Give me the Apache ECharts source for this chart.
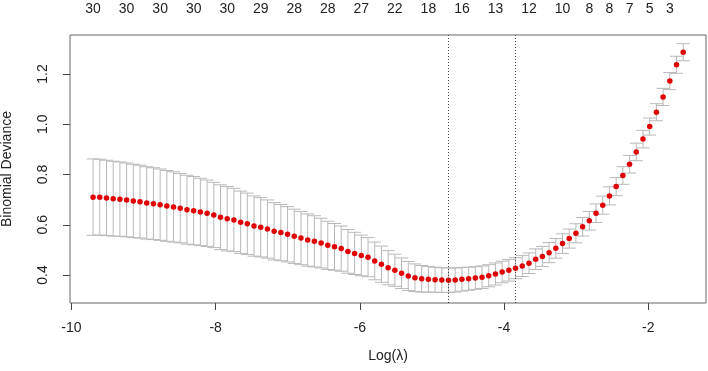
<!DOCTYPE html>
<html>
<head>
<meta charset="utf-8">
<script src="https://cdn.jsdelivr.net/npm/echarts@6/dist/echarts.min.js"></script>
<style>
  html, body { margin: 0; padding: 0; background: #fff; }
  #chart { width: 708px; height: 371px; }
</style>
</head>
<body>
<div id="chart"></div>
<script>
// log(lambda) sequence
var logLambda = [
  -9.700, -9.607, -9.514, -9.421, -9.328, -9.235, -9.142, -9.049, -8.956, -8.863,
  -8.770, -8.677, -8.584, -8.491, -8.398, -8.305, -8.212, -8.119, -8.026, -7.933,
  -7.840, -7.747, -7.654, -7.561, -7.468, -7.375, -7.282, -7.189, -7.096, -7.003,
  -6.910, -6.817, -6.724, -6.631, -6.538, -6.445, -6.352, -6.259, -6.166, -6.073,
  -5.980, -5.887, -5.794, -5.701, -5.608, -5.515, -5.422, -5.329, -5.236, -5.143,
  -5.050, -4.957, -4.864, -4.771, -4.678, -4.585, -4.492, -4.399, -4.306, -4.213,
  -4.120, -4.027, -3.934, -3.841, -3.748, -3.655, -3.562, -3.469, -3.376, -3.283,
  -3.190, -3.097, -3.004, -2.911, -2.818, -2.725, -2.632, -2.539, -2.446, -2.353,
  -2.260, -2.167, -2.074, -1.981, -1.888, -1.795, -1.702, -1.609, -1.516
];
// mean cross-validated binomial deviance
var cvm = [
  0.710, 0.710, 0.707, 0.704, 0.702, 0.699, 0.695, 0.692, 0.687, 0.684,
  0.680, 0.675, 0.671, 0.666, 0.660, 0.656, 0.651, 0.646, 0.639, 0.630,
  0.624, 0.619, 0.610, 0.604, 0.595, 0.590, 0.583, 0.574, 0.569, 0.562,
  0.554, 0.547, 0.539, 0.534, 0.527, 0.518, 0.512, 0.505, 0.494, 0.486,
  0.478, 0.471, 0.456, 0.443, 0.429, 0.419, 0.407, 0.396, 0.389, 0.385,
  0.383, 0.381, 0.380, 0.379, 0.380, 0.383, 0.385, 0.388, 0.391, 0.397,
  0.404, 0.412, 0.419, 0.427, 0.436, 0.447, 0.463, 0.474, 0.489, 0.506,
  0.525, 0.545, 0.566, 0.592, 0.616, 0.646, 0.678, 0.715, 0.752, 0.796,
  0.841, 0.890, 0.941, 0.991, 1.048, 1.109, 1.172, 1.237, 1.287
];
// standard error (half height of the error bars)
var cvsd = [
  0.152, 0.151, 0.150, 0.149, 0.148, 0.147, 0.146, 0.145, 0.144, 0.143,
  0.142, 0.141, 0.140, 0.138, 0.137, 0.136, 0.134, 0.132, 0.130, 0.129,
  0.128, 0.126, 0.124, 0.122, 0.120, 0.118, 0.116, 0.114, 0.112, 0.110,
  0.108, 0.106, 0.104, 0.102, 0.099, 0.096, 0.093, 0.090, 0.087, 0.084,
  0.081, 0.078, 0.075, 0.072, 0.068, 0.064, 0.061, 0.058, 0.055, 0.053,
  0.051, 0.050, 0.049, 0.049, 0.048, 0.047, 0.046, 0.045, 0.045, 0.044,
  0.044, 0.043, 0.043, 0.042, 0.042, 0.041, 0.041, 0.040, 0.040, 0.039,
  0.039, 0.038, 0.038, 0.037, 0.037, 0.037, 0.036, 0.036, 0.036, 0.035,
  0.035, 0.035, 0.035, 0.034, 0.034, 0.034, 0.034, 0.034, 0.034
];
// number of nonzero coefficients shown along the top
var topIdx = [0, 5, 10, 15, 20, 25, 30, 35, 40, 45, 50, 55, 60, 65, 70, 74, 77, 80, 83, 86];
var topLabels = ['30', '30', '30', '30', '30', '29', '28', '28', '27', '22', '18', '16', '13', '12', '10', '8', '8', '7', '5', '3'];
var xTicks = [-10, -8, -6, -4, -2];
var yTicks = [0.4, 0.6, 0.8, 1.0, 1.2];

// lambda.min and lambda.1se
var minIdx = 0;
for (var i = 1; i < cvm.length; i++) {
  if (cvm[i] < cvm[minIdx]) minIdx = i;
}
var seIdx = minIdx;
for (var i = minIdx; i < cvm.length; i++) {
  if (cvm[i] <= cvm[minIdx] + cvsd[minIdx]) seIdx = i;
}

var points = [], bars = [];
for (var i = 0; i < logLambda.length; i++) {
  points.push([logLambda[i], cvm[i]]);
  bars.push([logLambda[i], cvm[i] - cvsd[i], cvm[i] + cvsd[i]]);
}
var topPos = topIdx.map(function (k) { return logLambda[k]; });

var font = 'Liberation Sans, Arial, sans-serif';
var myChart = echarts.init(document.getElementById('chart'));
var option = {
  backgroundColor: '#fff',
  animation: false,
  grid: {
    left: 70, right: 2, top: 35, bottom: 68,
    outerBoundsMode: 'none',
    containLabel: false,
    show: true, borderColor: '#666', borderWidth: 1, backgroundColor: 'transparent'
  },
  xAxis: [{
    type: 'value',
    min: -10.02,
    max: -1.20,
    position: 'bottom',
    name: 'Log(\u03bb)',
    nameLocation: 'middle',
    nameGap: 46,
    nameTextStyle: { fontFamily: font, fontSize: 14, color: '#222' },
    axisLine: { show: false },
    axisTick: { show: true, length: 7, customValues: xTicks, lineStyle: { color: '#444' } },
    axisLabel: {
      customValues: xTicks, margin: 18, fontFamily: font, fontSize: 14, color: '#222'
    },
    splitLine: { show: false }
  }, {
    type: 'value',
    min: -10.02,
    max: -1.20,
    position: 'top',
    axisLine: { show: false },
    axisTick: { show: false },
    axisLabel: {
      customValues: topPos, margin: 19, fontFamily: font, fontSize: 14, color: '#222',
      formatter: function (v) {
        for (var k = 0; k < topPos.length; k++) {
          if (Math.abs(topPos[k] - v) < 1e-6) return topLabels[k];
        }
        return '';
      }
    },
    splitLine: { show: false }
  }],
  yAxis: {
    type: 'value',
    min: 0.2885,
    max: 1.3555,
    name: 'Binomial Deviance',
    nameLocation: 'middle',
    nameRotate: 90,
    nameGap: 56,
    nameTextStyle: { fontFamily: font, fontSize: 14, color: '#222' },
    axisLine: { show: false },
    axisTick: { show: true, length: 7, customValues: yTicks, lineStyle: { color: '#444' } },
    axisLabel: {
      customValues: yTicks, rotate: 90, margin: 20, fontFamily: font, fontSize: 14, color: '#222',
      formatter: function (v) { return v.toFixed(1); }
    },
    splitLine: { show: false }
  },
  series: [{
    name: 'errorbars',
    type: 'custom',
    xAxisIndex: 0,
    data: bars,
    z: 1,
    renderItem: function (params, api) {
      var lo = api.coord([api.value(0), api.value(1)]);
      var hi = api.coord([api.value(0), api.value(2)]);
      var w = 6.5;
      var st = { stroke: '#b8b8b8', lineWidth: 1 };
      return {
        type: 'group',
        children: [
          { type: 'line', shape: { x1: lo[0], y1: lo[1], x2: hi[0], y2: hi[1] }, style: st },
          { type: 'line', shape: { x1: lo[0] - w, y1: lo[1], x2: lo[0] + w, y2: lo[1] }, style: st },
          { type: 'line', shape: { x1: hi[0] - w, y1: hi[1], x2: hi[0] + w, y2: hi[1] }, style: st }
        ]
      };
    }
  }, {
    name: 'cvm',
    type: 'scatter',
    xAxisIndex: 0,
    data: points,
    symbol: 'circle',
    symbolSize: 5.5,
    itemStyle: { color: '#e00000', opacity: 1 },
    z: 3,
    markLine: {
      silent: true,
      symbol: ['none', 'none'],
      label: { show: false },
      lineStyle: { color: '#444', type: [1, 2], width: 1 },
      data: [{ xAxis: logLambda[minIdx] }, { xAxis: logLambda[seIdx] }]
    }
  }]
};
myChart.setOption(option);
</script>
</body>
</html>
